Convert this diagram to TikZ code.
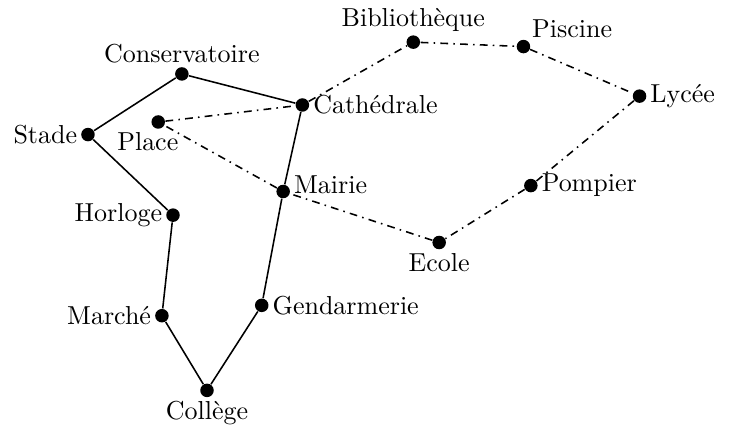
\documentclass[tikz,border=0pt]{standalone}
\usepackage{fontspec}
\usetikzlibrary{positioning}
\tikzset{
    lieu/.style = {
        circle,
        fill = black,
        inner sep = 0pt,
        minimum size = 5.2pt,
        },
    route/.style = {
        draw,
        semithick,
        },
    chemin/.style = {
        draw,
        semithick,
        dash dot,
        },
    every label/.style = {
        inner sep = 1.2pt,
        },
}
\begin{document}
\begin{tikzpicture}
        \useasboundingbox (0,0) rectangle (9.86,5.74);
        \node [lieu, label=left:Stade] (stade) at (1.19,3.92) {};
        \node [lieu, label=above:Conservatoire] (conserv) at (2.46,4.74) {};
        \node [lieu, label=right:Cathédrale] (cathedrale) at (4.09,4.32) {};
        \node [lieu, label={[xshift=-4pt]below:Place}] (place) at (2.14,4.09) {};
        \node [lieu, label=above:Bibliothèque] (biblio) at (5.59,5.17) {};
        \node [lieu, label=above right:Piscine] (piscine) at (7.08,5.11) {};
        \node [lieu, label=right:Lycée] (lycee) at (8.65,4.44) {};
        \node [lieu, label=right:Pompier] (pompier) at (7.18,3.23) {};
        \node [lieu, label=below:Ecole] (ecole) at (5.94,2.46) {};
        \node [lieu, label={[yshift=2.5pt]right:Mairie}] (mairie) at (3.83,3.15) {};
        \node [lieu, label=right:Gendarmerie] (gendarmerie) at (3.54,1.61) {};
        \node [lieu, label=below:Collège] (college) at (2.80,0.46) {};
        \node [lieu, label=left:Marché] (marche) at (2.19,1.47) {};
        \node [lieu, label=left:Horloge] (horloge) at (2.34,2.83) {};

        % routes
        \path [route] (stade) -- (conserv) -- (cathedrale) -- (mairie)
            -- (gendarmerie) -- (college) -- (marche) -- (horloge) -- (stade);
        % chemins
        \path [chemin] (place) -- (cathedrale) -- (biblio) -- (piscine)
            -- (lycee) -- (pompier) -- (ecole) -- (mairie) -- (place);
\end{tikzpicture}
\end{document}
